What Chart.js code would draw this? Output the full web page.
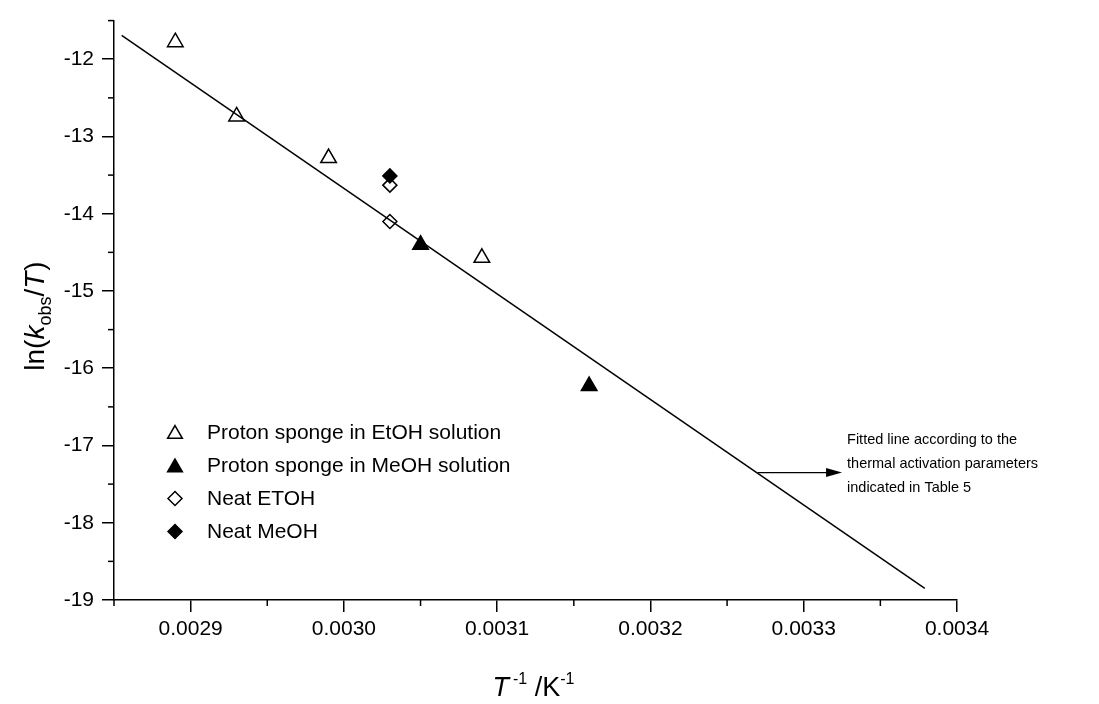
<!DOCTYPE html>
<html>
<head>
<meta charset="utf-8">
<script src="https://cdn.jsdelivr.net/npm/chart.js@4.4.1/dist/chart.umd.min.js"></script>
<style>
  body { margin: 0; background: #fff; }
  #wrap { width: 1099px; height: 704px; }
</style>
</head>
<body>
<div id="wrap"><canvas id="myChart" width="1099" height="704"></canvas></div>
<script>
// data
var etohSolX = [0.00289, 0.00293, 0.00299, 0.00309];
var etohSolY = [-11.78, -12.74, -13.28, -14.57];
var meohSolX = [0.00305, 0.00316];
var meohSolY = [-14.40, -16.23];
var neatEtohX = [0.00303, 0.00303];
var neatEtohY = [-13.63, -14.10];
var neatMeohX = [0.00303];
var neatMeohY = [-13.51];
var fitX = [0.002855, 0.003379];
var fitY = [-11.69, -18.85];

var legendNames = ['Proton sponge in EtOH solution', 'Proton sponge in MeOH solution', 'Neat ETOH', 'Neat MeOH'];
var noteLines = ['Fitted line according to the', 'thermal activation parameters', 'indicated in Table 5'];

var xTicks = [0.0029, 0.0030, 0.0031, 0.0032, 0.0033, 0.0034];
var xMinor = [0.00285, 0.00295, 0.00305, 0.00315, 0.00325, 0.00335];
var yTicks = [-19, -18, -17, -16, -15, -14, -13, -12];
var yMinor = [-18.5, -17.5, -16.5, -15.5, -14.5, -13.5, -12.5, -11.5];

var FONT = '"Liberation Sans", Arial, sans-serif';

function pts(xs, ys) {
  var out = [];
  for (var i = 0; i < xs.length; i++) out.push({x: xs[i], y: ys[i]});
  return out;
}

function drawSym(ctx, kind, x, y, r) {
  ctx.beginPath();
  if (kind == 'tri') {
    ctx.moveTo(x, y - r);
    ctx.lineTo(x + r * 0.866, y + r * 0.5);
    ctx.lineTo(x - r * 0.866, y + r * 0.5);
  } else {
    ctx.moveTo(x - r, y);
    ctx.lineTo(x, y - r);
    ctx.lineTo(x + r, y);
    ctx.lineTo(x, y + r);
  }
  ctx.closePath();
}

// text pieces drawn side by side, centred on cx; gap = extra space after a piece
function drawParts(ctx, parts, cx, baseY) {
  var w = 0;
  parts.forEach(function(p) { ctx.font = p.f; w += ctx.measureText(p.t).width + (p.gap || 0); });
  var x = cx - w / 2;
  ctx.textBaseline = 'alphabetic';
  ctx.textAlign = 'left';
  parts.forEach(function(p) {
    ctx.font = p.f;
    ctx.fillText(p.t, x, baseY + p.dy);
    x += ctx.measureText(p.t).width + (p.gap || 0);
  });
}

var extras = {
  id: 'extras',
  afterDraw: function(chart) {
    var ctx = chart.ctx;
    var xs = chart.scales.x, ys = chart.scales.y;
    ctx.save();
    ctx.strokeStyle = '#000';
    ctx.fillStyle = '#000';
    ctx.lineWidth = 1.5;

    // minor ticks
    xMinor.forEach(function(v) {
      var px = xs.getPixelForValue(v);
      ctx.beginPath(); ctx.moveTo(px, ys.bottom); ctx.lineTo(px, ys.bottom + 6); ctx.stroke();
    });
    yMinor.forEach(function(v) {
      var py = ys.getPixelForValue(v);
      ctx.beginPath(); ctx.moveTo(xs.left, py); ctx.lineTo(xs.left - 6, py); ctx.stroke();
    });

    // x title: T^-1 /K^-1
    drawParts(ctx, [
      {t: 'T', f: 'italic 27px ' + FONT, dy: 0, gap: 4},
      {t: '-1', f: '16px ' + FONT, dy: -12},
      {t: ' /K', f: '27px ' + FONT, dy: 0},
      {t: '-1', f: '16px ' + FONT, dy: -12}
    ], (xs.left + xs.right) / 2 - 2, 696);

    // y title: ln(k_obs/T)
    ctx.save();
    ctx.translate(44, 316);
    ctx.rotate(-Math.PI / 2);
    drawParts(ctx, [
      {t: 'ln(', f: '28px ' + FONT, dy: 0},
      {t: 'k', f: 'italic 28px ' + FONT, dy: 0},
      {t: 'obs', f: '18px ' + FONT, dy: 7},
      {t: '/', f: '28px ' + FONT, dy: 0},
      {t: 'T', f: 'italic 28px ' + FONT, dy: 0, gap: 1},
      {t: ')', f: '28px ' + FONT, dy: 0}
    ], 0, 0);
    ctx.restore();

    // legend
    var kinds = [['tri', false], ['tri', true], ['dia', false], ['dia', true]];
    var rowY = [432, 465.5, 498.5, 531.5];
    ctx.font = '21px ' + FONT;
    ctx.textBaseline = 'middle';
    ctx.textAlign = 'left';
    for (var i = 0; i < 4; i++) {
      var isTri = kinds[i][0] == 'tri';
      drawSym(ctx, kinds[i][0], 175, rowY[i] + (isTri ? 2 : 0), isTri ? 8.5 : 7);
      ctx.lineWidth = 1.5;
      if (kinds[i][1]) ctx.fill();
      ctx.stroke();
      ctx.fillText(legendNames[i], 207, rowY[i] + 1);
    }

    // annotation arrow + note
    var ax0 = xs.getPixelForValue(0.003270);
    var ay = ys.getPixelForValue(-17.35);
    var ax1 = xs.getPixelForValue(0.003325);
    ctx.lineWidth = 1.3;
    ctx.beginPath(); ctx.moveTo(ax0, ay); ctx.lineTo(ax1 - 14, ay); ctx.stroke();
    ctx.beginPath();
    ctx.moveTo(ax1, ay); ctx.lineTo(ax1 - 16, ay - 4.5); ctx.lineTo(ax1 - 16, ay + 4.5);
    ctx.closePath(); ctx.fill();
    ctx.font = '14.5px ' + FONT;
    ctx.textBaseline = 'middle';
    for (var j = 0; j < noteLines.length; j++) {
      ctx.fillText(noteLines[j], ax1 + 5, ay - 33 + j * 24);
    }
    ctx.restore();
  }
};

var ctx = document.getElementById('myChart').getContext('2d');
var myChart = new Chart(ctx, {
  type: 'scatter',
  data: {
    datasets: [
      {label: 'fit', type: 'line', data: pts(fitX, fitY), borderColor: '#000', borderWidth: 1.5, pointRadius: 0, fill: false, order: 10},
      {label: legendNames[0], data: pts(etohSolX, etohSolY), pointStyle: 'triangle', pointRadius: 9, pointBorderWidth: 1.5, pointBorderColor: '#000', pointBackgroundColor: 'rgba(0,0,0,0)'},
      {label: legendNames[1], data: pts(meohSolX, meohSolY), pointStyle: 'triangle', pointRadius: 9, pointBorderWidth: 1.5, pointBorderColor: '#000', pointBackgroundColor: '#000'},
      {label: legendNames[2], data: pts(neatEtohX, neatEtohY), pointStyle: 'rectRot', pointRadius: 7, pointBorderWidth: 1.5, pointBorderColor: '#000', pointBackgroundColor: 'rgba(0,0,0,0)'},
      {label: legendNames[3], data: pts(neatMeohX, neatMeohY), pointStyle: 'rectRot', pointRadius: 7, pointBorderWidth: 1.5, pointBorderColor: '#000', pointBackgroundColor: '#000'}
    ]
  },
  options: {
    responsive: false,
    animation: false,
    clip: false,
    layout: {padding: {left: 0, top: 18, right: 142, bottom: 0}},
    plugins: {legend: {display: false}, tooltip: {enabled: false}},
    scales: {
      x: {
        type: 'linear', min: 0.00285, max: 0.0034,
        afterBuildTicks: function(s) { s.ticks = xTicks.map(function(v) { return {value: v}; }); },
        afterFit: function(s) { s.height = 104; },
        border: {display: true, color: '#000', width: 1.5},
        grid: {drawOnChartArea: false, drawTicks: true, tickLength: 12, color: '#000', lineWidth: 1.5},
        ticks: {color: '#000', font: {family: FONT, size: 21}, padding: 5, maxRotation: 0,
          callback: function(v) { return v.toFixed(4); }}
      },
      y: {
        type: 'linear', min: -19, max: -11.5,
        afterBuildTicks: function(s) { s.ticks = yTicks.map(function(v) { return {value: v}; }); },
        afterFit: function(s) { s.width = 114; },
        border: {display: true, color: '#000', width: 1.5},
        grid: {drawOnChartArea: false, drawTicks: true, tickLength: 12, color: '#000', lineWidth: 1.5},
        ticks: {color: '#000', font: {family: FONT, size: 21}, padding: 8,
          callback: function(v) { return String(v); }}
      }
    }
  },
  plugins: [extras]
});
</script>
</body>
</html>
